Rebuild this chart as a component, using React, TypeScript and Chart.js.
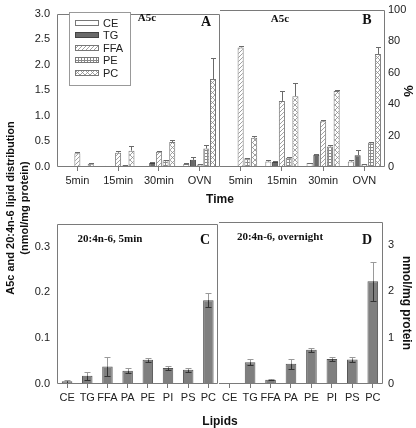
import React, { useEffect, useRef } from 'react';
import { Chart, registerables } from 'chart.js';
Chart.register(...registerables);

// ---------- data ----------
const timeLabels = ['5min', '15min', '30min', 'OVN'];
const lipidSeries = ['CE', 'TG', 'FFA', 'PE', 'PC'];

// Panel A (nmol/mg protein)
const aCE = [0.0, 0.02, 0.02, 0.06];
const aTG = [0.005, 0.02, 0.08, 0.14];
const aFFA = [0.27, 0.28, 0.3, 0.05];
const aPE = [0.015, 0.03, 0.13, 0.36];
const aPC = [0.065, 0.32, 0.49, 1.72];
const aCEerr = [0, 0.005, 0.005, 0.015];
const aTGerr = [0, 0.005, 0.01, 0.055];
const aFFAerr = [0.015, 0.03, 0.01, 0.01];
const aPEerr = [0.004, 0.01, 0.015, 0.08];
const aPCerr = [0.01, 0.09, 0.04, 0.42];

// Panel B (%)
const bCE = [0, 3.5, 2.5, 3.5];
const bTG = [0, 3.2, 7.8, 7.5];
const bFFA = [76, 42, 29, 1.8];
const bPE = [5.5, 5.8, 13, 15.6];
const bPC = [18.6, 45, 48.3, 71.8];
const bCEerr = [0, 1, 0.3, 1.2];
const bTGerr = [0, 0.8, 0.6, 3.5];
const bFFAerr = [1, 6.2, 1, 0.3];
const bPEerr = [0.3, 0.5, 0.8, 0.3];
const bPCerr = [1, 8.5, 0.5, 4.2];

// Panels C, D (20:4n-6)
const lipidClasses = ['CE', 'TG', 'FFA', 'PA', 'PE', 'PI', 'PS', 'PC'];
const cValues = [0.006, 0.018, 0.038, 0.029, 0.053, 0.035, 0.031, 0.183];
const cErr = [0.003, 0.009, 0.021, 0.006, 0.004, 0.005, 0.004, 0.016];
const dValues = [0.02, 0.47, 0.09, 0.44, 0.74, 0.54, 0.53, 2.22];
const dErr = [0.005, 0.06, 0.01, 0.11, 0.04, 0.05, 0.06, 0.42];

const aTicksMax = 3;
const bTicksMax = 100;
const cTicksMax = 0.3;
const dTicksMax = 3;

// ---------- styling helpers ----------
const NARROW = "'Liberation Sans Narrow', 'Liberation Sans', Arial, sans-serif";
const REGULAR = "'Liberation Sans', Arial, sans-serif";
Chart.defaults.font.family = NARROW;
Chart.defaults.font.size = 11;
Chart.defaults.color = '#222';

function makePattern(kind: string): CanvasPattern | string {
  const c = document.createElement('canvas');
  const g = c.getContext('2d')!;
  if (kind === 'CE') return '#ffffff';
  if (kind === 'TG') return '#6a6a6a';
  if (kind === 'FFA') {
    c.width = 4; c.height = 4;
    g.fillStyle = '#fff'; g.fillRect(0, 0, 4, 4);
    g.strokeStyle = '#8a8a8a'; g.lineWidth = 0.8;
    g.beginPath();
    g.moveTo(0, 4); g.lineTo(4, 0);
    g.moveTo(-1, 1); g.lineTo(1, -1);
    g.moveTo(3, 5); g.lineTo(5, 3);
    g.stroke();
  } else if (kind === 'PE') {
    c.width = 3; c.height = 3;
    g.fillStyle = '#fff'; g.fillRect(0, 0, 3, 3);
    g.fillStyle = '#8a8a8a';
    g.fillRect(0, 0, 3, 1); g.fillRect(0, 0, 1, 3);
  } else {
    c.width = 5; c.height = 5;
    g.fillStyle = '#fff'; g.fillRect(0, 0, 5, 5);
    g.strokeStyle = '#8a8a8a'; g.lineWidth = 0.8;
    g.beginPath();
    g.moveTo(0, 5); g.lineTo(5, 0);
    g.moveTo(0, 0); g.lineTo(5, 5);
    g.stroke();
  }
  return g.createPattern(c, 'repeat')!;
}

function errorBarPlugin(errors: number[][], mode: 'up' | 'both', upColor: string, downColor: string, cap: number) {
  return {
    id: 'errbars',
    afterDatasetsDraw(chart: any) {
      const ctx = chart.ctx;
      const y = chart.scales.y;
      chart.data.datasets.forEach((ds: any, di: number) => {
        const meta = chart.getDatasetMeta(di);
        meta.data.forEach((bar: any, i: number) => {
          const v = ds.data[i];
          const e = errors[di][i];
          if (!e) return;
          const x = Math.round(bar.x) + 0.5;
          const yV = y.getPixelForValue(v);
          const yT = Math.round(y.getPixelForValue(v + e)) + 0.5;
          const yB = Math.round(y.getPixelForValue(Math.max(0, v - e))) + 0.5;
          ctx.save();
          ctx.lineWidth = 1;
          ctx.strokeStyle = upColor;
          ctx.beginPath();
          ctx.moveTo(x, yV); ctx.lineTo(x, yT);
          ctx.moveTo(x - cap, yT); ctx.lineTo(x + cap, yT);
          ctx.stroke();
          if (mode === 'both') {
            ctx.strokeStyle = downColor;
            ctx.beginPath();
            ctx.moveTo(x, yV); ctx.lineTo(x, yB);
            ctx.moveTo(x - cap, yB); ctx.lineTo(x + cap, yB);
            ctx.stroke();
          }
          ctx.restore();
        });
      });
    },
  };
}

function boxPlugin(drawLeft: boolean) {
  return {
    id: 'box',
    afterDraw(chart: any) {
      const { left, right, top, bottom } = chart.chartArea;
      const ctx = chart.ctx;
      ctx.save();
      ctx.strokeStyle = '#7a7a7a';
      ctx.lineWidth = 1;
      const l = Math.round(left) + 0.5, r = Math.round(right) - 0.5;
      const t = Math.round(top) + 0.5, b = Math.round(bottom) - 0.5;
      ctx.beginPath();
      if (drawLeft) { ctx.moveTo(l, b); ctx.lineTo(l, t); } else { ctx.moveTo(Math.round(left), t); }
      ctx.lineTo(r, t); ctx.lineTo(r, b); ctx.lineTo(drawLeft ? l : Math.round(left), b);
      ctx.stroke();
      ctx.restore();
    },
  };
}

function legendPlugin(patterns: (CanvasPattern | string)[]) {
  return {
    id: 'customLegend',
    afterDraw(chart: any) {
      const ctx = chart.ctx;
      ctx.save();
      ctx.strokeStyle = '#999';
      ctx.lineWidth = 1;
      ctx.fillStyle = '#fff';
      ctx.fillRect(69, 12, 61, 73);
      ctx.strokeRect(69.5, 12.5, 61, 73);
      const rows = [23, 35, 48, 60, 73];
      lipidSeries.forEach((name, i) => {
        const yc = rows[i];
        ctx.fillStyle = patterns[i] as any;
        ctx.fillRect(75, yc - 2.5, 24, 5);
        ctx.strokeStyle = i === 1 ? '#444' : '#777';
        ctx.strokeRect(75.5, yc - 2.5, 23, 5);
        ctx.fillStyle = '#222';
        ctx.font = "11px " + REGULAR;
        ctx.textBaseline = 'middle';
        ctx.fillText(name, 103, yc + 0.5);
      });
      ctx.restore();
    },
  };
}

function xScale(h: number) {
  return {
    type: 'category',
    grid: { display: true, drawOnChartArea: false, drawTicks: true, tickLength: 4, offset: false, color: '#777' },
    border: { display: false },
    ticks: { padding: 3, autoSkip: false, maxRotation: 0, minRotation: 0, color: '#222' },
    afterFit: (s: any) => { s.height = h; },
  };
}

function yScale(position: string, max: number, step: number, width: number, pad: number, limit: number, decimals: number) {
  return {
    position,
    min: 0,
    max,
    grid: { display: false, drawTicks: false },
    border: { display: false },
    ticks: {
      stepSize: step,
      padding: pad,
      color: '#222',
      font: { family: REGULAR, size: 11 },
      callback: (v: any) => Number(v).toFixed(decimals),
    },
    afterBuildTicks: (s: any) => { s.ticks = s.ticks.filter((t: any) => t.value <= limit + 1e-9); },
    afterFit: (s: any) => { s.width = width; },
  };
}

function groupedConfig(values: number[][], errors: number[][], y: any, isA: boolean) {
  const patterns = lipidSeries.map(makePattern);
  const plugins: any[] = [errorBarPlugin(errors, 'up', '#6a6a6a', '#6a6a6a', 2.5), boxPlugin(isA)];
  if (isA) plugins.push(legendPlugin(patterns));
  return {
    type: 'bar',
    data: {
      labels: timeLabels,
      datasets: lipidSeries.map((name, i) => ({
        label: name,
        data: values[i],
        backgroundColor: patterns[i],
        borderColor: i === 1 ? '#444' : '#777',
        borderWidth: 1,
        categoryPercentage: 0.82,
        barPercentage: 0.9,
      })),
    },
    options: {
      responsive: false,
      animation: false,
      events: [],
      layout: { padding: { top: 4, left: 0, right: 0, bottom: 0 }, autoPadding: false },
      plugins: { legend: { display: false }, tooltip: { enabled: false } },
      scales: { x: xScale(28), y },
    },
    plugins,
  };
}

function singleConfig(values: number[], errors: number[], y: any, isC: boolean) {
  return {
    type: 'bar',
    data: {
      labels: lipidClasses,
      datasets: [{
        label: '20:4n-6',
        data: values,
        backgroundColor: '#7f7f7f',
        borderColor: '#555',
        borderWidth: 1,
        categoryPercentage: 0.8,
        barPercentage: 0.65,
      }],
    },
    options: {
      responsive: false,
      animation: false,
      events: [],
      layout: { padding: { top: 12, left: 0, right: 0, bottom: 0 }, autoPadding: false },
      plugins: { legend: { display: false }, tooltip: { enabled: false } },
      scales: { x: xScale(26), y },
    },
    plugins: [errorBarPlugin([errors], 'both', '#9a9a9a', '#333', 3), boxPlugin(isC)],
  };
}

function ChartCanvas({ left, top, width, height, make }: any) {
  const ref = useRef<HTMLCanvasElement>(null);
  useEffect(() => {
    const chart = new Chart(ref.current!, make());
    return () => chart.destroy();
  }, []);
  return (
    <canvas
      ref={ref}
      width={width}
      height={height}
      style={{ position: 'absolute', left, top, width, height }}
    />
  );
}

function Label({ x, y, text, size, serif, rotate, bold = true }: any) {
  return (
    <div
      style={{
        position: 'absolute',
        left: x,
        top: y,
        transform: `translate(-50%, -50%)${rotate ? ` rotate(${rotate}deg)` : ''}`,
        whiteSpace: 'nowrap',
        fontFamily: serif ? "'Liberation Serif', 'Times New Roman', serif" : REGULAR,
        fontWeight: bold ? 'bold' : 'normal',
        fontSize: size,
        lineHeight: 1,
        color: '#111',
      }}
    >
      {text}
    </div>
  );
}

export default function App() {
  return (
    <div style={{ position: 'absolute', left: 0, top: 0, width: 416, height: 428, background: '#fff', overflow: 'hidden' }}>
      <ChartCanvas
        left={0} top={0} width={220} height={195}
        make={() => groupedConfig(
          [aCE, aTG, aFFA, aPE, aPC],
          [aCEerr, aTGerr, aFFAerr, aPEerr, aPCerr],
          yScale('left', 3, 0.5, 57, 7, aTicksMax, 1), true)}
      />
      <ChartCanvas
        left={220} top={0} width={196} height={195}
        make={() => groupedConfig(
          [bCE, bTG, bFFA, bPE, bPC],
          [bCEerr, bTGerr, bFFAerr, bPEerr, bPCerr],
          yScale('right', 100, 20, 31, 3, bTicksMax, 0), false)}
      />
      <ChartCanvas
        left={0} top={210} width={219} height={200}
        make={() => singleConfig(cValues, cErr, yScale('left', 0.35, 0.1, 57, 7, cTicksMax, 1), true)}
      />
      <ChartCanvas
        left={219} top={210} width={197} height={200}
        make={() => singleConfig(dValues, dErr, yScale('right', 3.5, 1, 33, 5, dTicksMax, 0), false)}
      />

      <Label x={147} y={17} text="A5c" size={11} serif />
      <Label x={206} y={22} text="A" size={14} serif />
      <Label x={280} y={18} text="A5c" size={11} serif />
      <Label x={367} y={20} text="B" size={14} serif />
      <Label x={110} y={238} text="20:4n-6, 5min" size={11} serif />
      <Label x={205} y={240} text="C" size={14} serif />
      <Label x={280} y={236} text="20:4n-6, overnight" size={11} serif />
      <Label x={367} y={240} text="D" size={14} serif />

      <Label x={220} y={199} text="Time" size={12} />
      <Label x={220} y={421} text="Lipids" size={12} />
      <Label x={10} y={208} text="A5c and 20:4n-6 lipid distribution" size={11} rotate={-90} />
      <Label x={24} y={208} text="(nmol/mg protein)" size={11} rotate={-90} />
      <Label x={408} y={91} text="%" size={13} rotate={90} />
      <Label x={407} y={303} text="nmol/mg protein" size={12} rotate={90} />
    </div>
  );
}
